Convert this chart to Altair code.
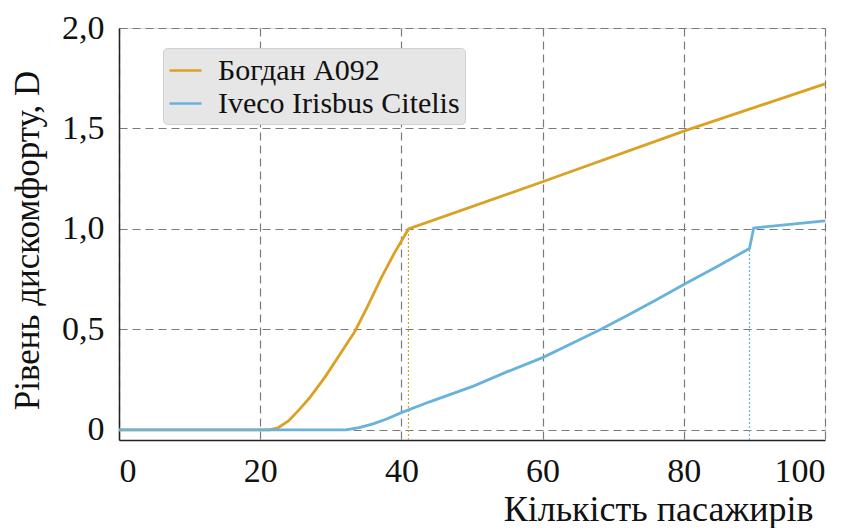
import altair as alt
import pandas as pd

# Богдан A092
bogdan_x = [0, 21.3, 22.5, 24, 25.5, 27, 29.2, 31, 33.4, 35, 37.2, 39, 41, 60, 80, 100]
bogdan_d = [0, 0, 0.01, 0.045, 0.10, 0.16, 0.264, 0.36, 0.49, 0.60, 0.76, 0.88, 1.0, 1.235, 1.487, 1.722]

# Iveco Irisbus Citelis
iveco_x = [0, 32.1, 34, 36, 38, 40, 44, 50.2, 55, 60, 65, 68.2, 72, 76, 80, 84.8, 89.3, 89.9, 100]
iveco_d = [0, 0, 0.012, 0.03, 0.056, 0.086, 0.14, 0.218, 0.29, 0.36, 0.445, 0.5, 0.57, 0.645, 0.724, 0.815, 0.903, 1.005, 1.04]

series_names = ["Богдан A092", "Iveco Irisbus Citelis"]
series_colors = ["#DAA222", "#68B2DC"]

# dotted markers
marker_x = [41, 89.3]
marker_d = [1.0, 0.903]

x_ticks = [0, 20, 40, 60, 80, 100]
y_ticks = [0, 0.5, 1.0, 1.5, 2.0]

rows = []
for i, (x, d) in enumerate(zip(bogdan_x, bogdan_d)):
    rows.append({"x": x, "d": d, "s": series_names[0], "o": i})
for i, (x, d) in enumerate(zip(iveco_x, iveco_d)):
    rows.append({"x": x, "d": d, "s": series_names[1], "o": i})
df = pd.DataFrame(rows)

mk = pd.DataFrame({"x": marker_x, "d": marker_d, "s": series_names, "y0": [-0.05, -0.05]})

FONT = "Liberation Serif"

xscale = alt.Scale(domain=[0, 100], nice=False, zero=False)
yscale = alt.Scale(domain=[-0.05, 2.0], nice=False, zero=False)
color = alt.Color(
    "s:N",
    scale=alt.Scale(domain=series_names, range=series_colors),
    legend=alt.Legend(
        title=None,
        orient="none",
        legendX=44,
        legendY=20,
        fillColor="#e6e6e6",
        strokeColor="#d0d0d0",
        cornerRadius=4,
        padding=5,
        symbolType="stroke",
        symbolStrokeWidth=2.5,
        symbolSize=1024,
        labelFont=FONT,
        labelFontSize=30,
        labelColor="#111111",
        rowPadding=0,
        labelOffset=15,
        labelLimit=400,
    ),
)

xaxis = alt.Axis(
    values=x_ticks,
    format="d",
    title="Кількість пасажирів",
    titleFont=FONT,
    titleFontSize=36,
    titleFontWeight="normal",
    titleColor="#111111",
    titleAnchor="end",
    titleAlign="right",
    titleBaseline="alphabetic",
    titleX=694,
    titleY=80,
    labelFont=FONT,
    labelFontSize=34,
    labelColor="#111111",
    labelPadding=14,
    ticks=False,
    domainColor="#222222",
    domainWidth=1.5,
    gridColor="#7a7a7a",
    gridDash=[8, 5],
    gridWidth=1.2,
    gridOpacity=1,
)
yaxis = alt.Axis(
    values=y_ticks,
    labelExpr="datum.value == 0 ? '0' : replace(format(datum.value, '.1f'), '.', ',')",
    title="Рівень дискомфорту, D",
    titleFont=FONT,
    titleFontSize=35,
    titleFontWeight="normal",
    titleColor="#111111",
    titleAnchor="middle",
    titleAngle=-90,
    titleBaseline="alphabetic",
    titleX=-81,
    titleY=212,
    labelFont=FONT,
    labelFontSize=34,
    labelColor="#111111",
    labelPadding=15,
    ticks=False,
    domainColor="#222222",
    domainWidth=1.5,
    gridColor="#7a7a7a",
    gridDash=[8, 5],
    gridWidth=1.2,
    gridOpacity=1,
)

lines = alt.Chart(df).mark_line(strokeWidth=2.8).encode(
    x=alt.X("x:Q", scale=xscale, axis=xaxis),
    y=alt.Y("d:Q", scale=yscale, axis=yaxis),
    color=color,
    order="o:Q",
)

rules = alt.Chart(mk).mark_rule(strokeWidth=1.2, strokeDash=[2, 2]).encode(
    x=alt.X("x:Q", scale=xscale),
    y=alt.Y("y0:Q", scale=yscale),
    y2="d:Q",
    color=color,
)

chart = alt.layer(rules, lines).properties(
    width=706,
    height=412,
    autosize=alt.AutoSizeParams(type="none"),
    padding={"left": 111, "top": 20, "right": 20, "bottom": 88},
).configure_view(stroke=None).configure(background="white")

chart.save("out.html", embed_options={"renderer": "svg", "actions": False})
